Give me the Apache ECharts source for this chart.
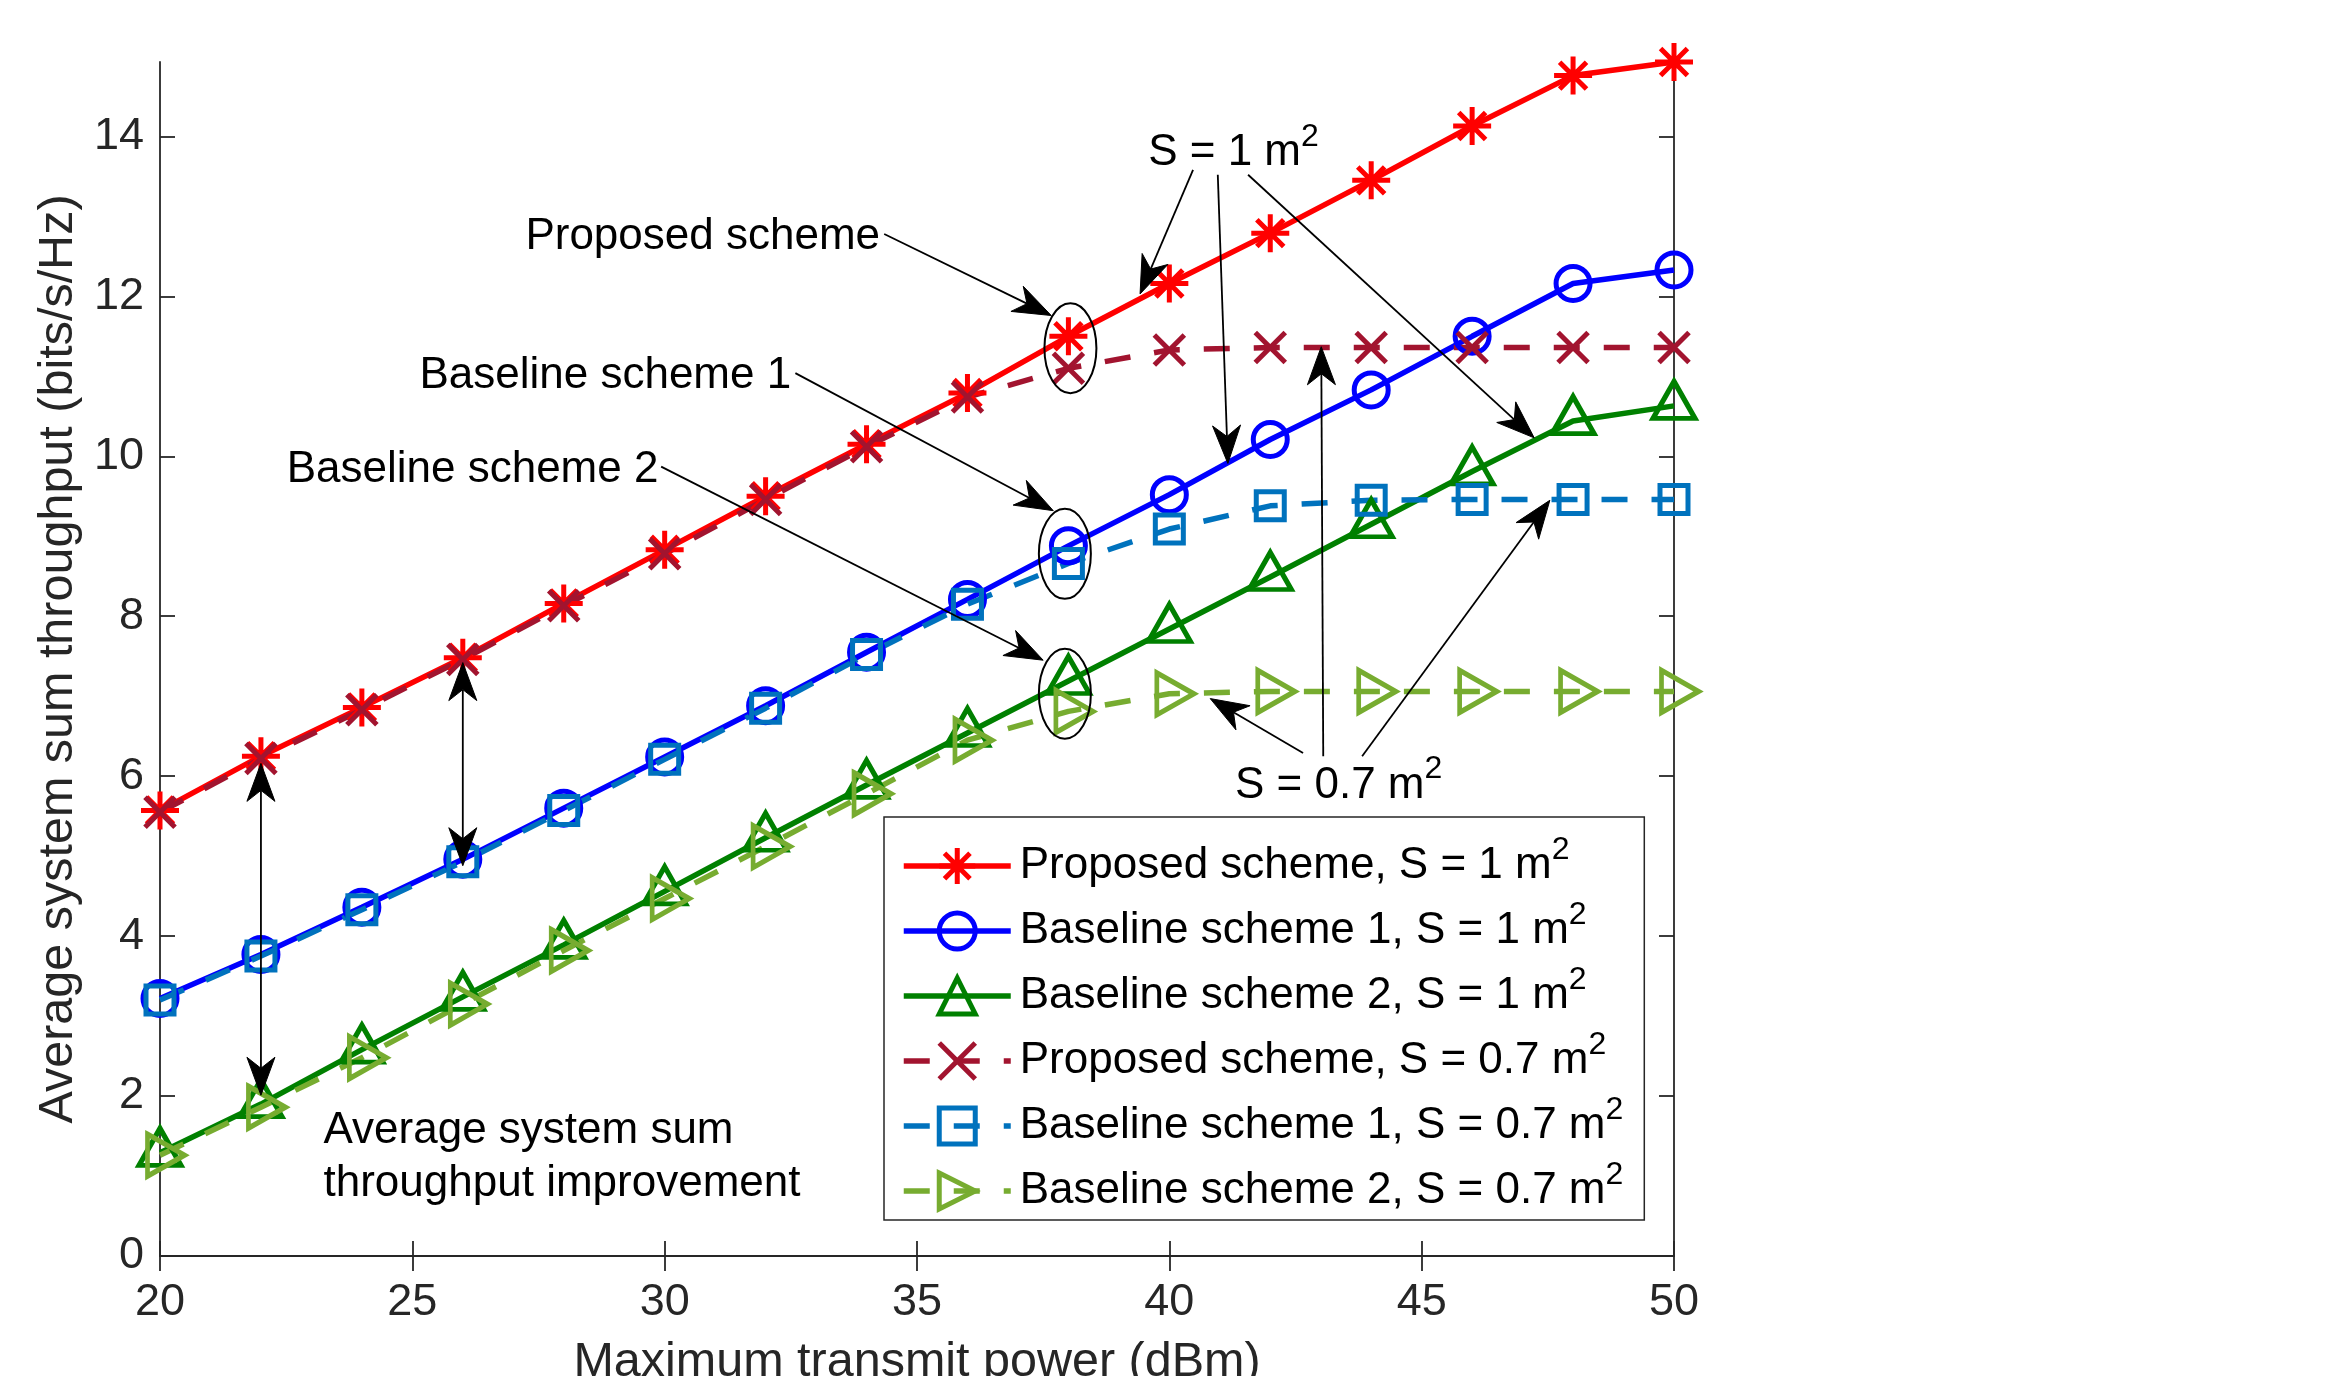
<!DOCTYPE html>
<html>
<head>
<meta charset="utf-8">
<script src="https://cdn.jsdelivr.net/npm/echarts@6/dist/echarts.min.js"></script>
<style>
html,body{margin:0;padding:0;background:#fff;}
#c{width:2338px;height:1376px;}
</style>
</head>
<body>
<div id="c"></div>
<script>
// ---------------- data ----------------
const power = [20, 22, 24, 26, 28, 30, 32, 34, 36, 38, 40, 42, 44, 46, 48, 50];
const xTicks = [20, 25, 30, 35, 40, 45, 50];
const yTicks = [0, 2, 4, 6, 8, 10, 12, 14];
const yTop = 14.93;

const proposedS1  = [5.57, 6.25, 6.86, 7.48, 8.16, 8.83, 9.50, 10.15, 10.79, 11.50, 12.16, 12.79, 13.45, 14.13, 14.76, 14.93];
const baseline1S1 = [3.22, 3.77, 4.36, 4.96, 5.60, 6.24, 6.88, 7.55, 8.21, 8.88, 9.52, 10.21, 10.83, 11.50, 12.16, 12.33];
const baseline2S1 = [1.29, 1.90, 2.58, 3.24, 3.89, 4.56, 5.23, 5.89, 6.54, 7.19, 7.84, 8.49, 9.15, 9.81, 10.44, 10.63];
const proposedS07  = [5.55, 6.22, 6.83, 7.46, 8.13, 8.78, 9.46, 10.12, 10.74, 11.10, 11.33, 11.36, 11.36, 11.36, 11.36, 11.36];
const baseline1S07 = [3.20, 3.75, 4.33, 4.93, 5.57, 6.21, 6.85, 7.52, 8.15, 8.66, 9.09, 9.38, 9.45, 9.46, 9.46, 9.46];
const baseline2S07 = [1.26, 1.86, 2.48, 3.15, 3.82, 4.47, 5.12, 5.78, 6.45, 6.81, 7.03, 7.06, 7.06, 7.06, 7.06, 7.06];

const seriesNames = [
  'Proposed scheme, S = 1 m²',
  'Baseline scheme 1, S = 1 m²',
  'Baseline scheme 2, S = 1 m²',
  'Proposed scheme, S = 0.7 m²',
  'Baseline scheme 1, S = 0.7 m²',
  'Baseline scheme 2, S = 0.7 m²'
];

// annotation texts: [text, superscript, x (data), baseline y (data)]
const annoTexts = [
  ['S = 1 m', '2', 39.58, 13.62],
  ['S = 0.7 m', '2', 41.30, 5.71],
  ['Proposed scheme', '', 27.24, 12.57],
  ['Baseline scheme 1', '', 25.14, 10.83],
  ['Baseline scheme 2', '', 22.51, 9.66],
  ['Average system sum', '', 23.24, 1.39],
  ['throughput improvement', '', 23.24, 0.73]
];
// arrows: [x0, y0, x1(tip), y1(tip)] in data units
const annoArrows = [
  [40.47, 13.58, 39.42, 12.03],
  [40.96, 13.52, 41.16, 9.91],
  [41.56, 13.52, 47.23, 10.23],
  [42.65, 6.29, 40.81, 6.97],
  [43.05, 6.25, 43.01, 11.37],
  [43.82, 6.25, 47.54, 9.45],
  [34.35, 12.78, 37.66, 11.76],
  [32.59, 11.04, 37.70, 9.32],
  [29.93, 9.87, 37.50, 7.45]
];
// double-headed arrows: [x, yTop, yBottom]
const annoDoubleArrows = [
  [22, 6.16, 2.01],
  [26, 7.42, 4.88]
];
// ellipses: [x, y] centers in data units
const annoEllipses = [
  [38.04, 11.35],
  [37.93, 8.78],
  [37.93, 7.03]
];

// ---------------- chart ----------------
const FONT = '"Liberation Sans", Arial, Helvetica, sans-serif';
const AX = '#262626';
const chart = echarts.init(document.getElementById('c'), null, {renderer: 'canvas'});

const STAR = 'path://M50,0L50,100M0,50L100,50M14.6,14.6L85.4,85.4M85.4,14.6L14.6,85.4';
const XMARK = 'path://M0,0L100,100M100,0L0,100';
const RTRI = 'path://M0,0L100,50L0,100Z';

function mk(name, vals, color, symbol, size, dashed, offset) {
  return {
    name: name, type: 'line',
    data: power.map((p, i) => [p, vals[i]]),
    symbol: symbol, symbolSize: size, symbolOffset: offset || [0, 0],
    showAllSymbol: true, clip: false, silent: true, animation: false,
    lineStyle: {color: color, width: 5.5, type: dashed ? [26, 24] : 'solid', cap: 'butt'},
    itemStyle: {color: 'rgba(255,255,255,0)', borderColor: color, borderWidth: 5},
    emphasis: {disabled: true}
  };
}

const axisCommon = {
  axisLine: {show: true, lineStyle: {color: AX, width: 1.8}},
  axisTick: {show: true, inside: true, length: 15, lineStyle: {color: AX, width: 1.8}},
  splitLine: {show: false}
};

const option = {
  backgroundColor: '#fff',
  animation: false,
  grid: {left: 160, right: 664, top: 62, bottom: 120, containLabel: false, outerBoundsMode: 'none'},
  xAxis: [
    Object.assign({
      type: 'value', min: xTicks[0], max: xTicks[xTicks.length - 1], interval: xTicks[1] - xTicks[0], position: 'bottom',
      axisLabel: {fontSize: 45, color: AX, margin: 24, fontFamily: FONT},
      name: 'Maximum transmit power (dBm)', nameLocation: 'middle', nameGap: 82,
      nameTextStyle: {fontSize: 48.5, color: AX, fontFamily: FONT}
    }, axisCommon),
    Object.assign({
      type: 'value', min: xTicks[0], max: xTicks[xTicks.length - 1], interval: xTicks[1] - xTicks[0], position: 'top',
      axisLabel: {show: false}
    }, axisCommon)
  ],
  yAxis: [
    Object.assign({
      type: 'value', min: yTicks[0], max: yTop, interval: yTicks[1] - yTicks[0], position: 'left',
      axisLabel: {fontSize: 45, color: AX, margin: 16, fontFamily: FONT, showMaxLabel: false},
      name: 'Average system sum throughput (bits/s/Hz)', nameLocation: 'middle', nameGap: 75,
      nameTextStyle: {fontSize: 48.5, color: AX, fontFamily: FONT}
    }, axisCommon),
    Object.assign({
      type: 'value', min: yTicks[0], max: yTop, interval: yTicks[1] - yTicks[0], position: 'right',
      axisLabel: {show: false}
    }, axisCommon)
  ],
  legend: {
    data: seriesNames, orient: 'vertical', left: 884, top: 817,
    padding: [17, 21, 7, 17], itemGap: 11, itemWidth: 107, itemHeight: 45,
    backgroundColor: '#fff', borderColor: AX, borderWidth: 1.5, borderRadius: 0,
    selectedMode: false, z: 50,
    lineStyle: {width: 5.5},
    itemStyle: {borderWidth: 5},
    formatter: n => '{a|' + n.replace('²', '') + '}{s|2}',
    textStyle: {
      color: '#000', fontFamily: FONT,
      rich: {
        a: {fontSize: 44, lineHeight: 64, fontFamily: FONT, color: '#000', padding: [0, 0, 0, 4]},
        s: {fontSize: 32, lineHeight: 32, verticalAlign: 'top', fontFamily: FONT, color: '#000'}
      }
    }
  },
  series: [
    mk(seriesNames[0], proposedS1, '#FF0000', STAR, 38, false),
    mk(seriesNames[1], baseline1S1, '#0000FF', 'circle', 34, false),
    mk(seriesNames[2], baseline2S1, '#008000', 'triangle', [42, 37], false, [0, -6]),
    mk(seriesNames[3], proposedS07, '#A2142F', XMARK, 30, true),
    mk(seriesNames[4], baseline1S07, '#0072BD', 'rect', 28, true),
    mk(seriesNames[5], baseline2S07, '#77AC30', RTRI, [37, 42], true, [6, 0])
  ]
};
chart.setOption(option);

// ---------------- annotations ----------------
const P = (x, y) => chart.convertToPixel({xAxisIndex: 0, yAxisIndex: 0}, [x, y]);
const g = [];
const richAnno = {
  a: {fontSize: 44, lineHeight: 64, fontFamily: FONT, color: '#000'},
  s: {fontSize: 32, lineHeight: 32, verticalAlign: 'top', fontFamily: FONT, color: '#000'}
};
annoTexts.forEach(t => {
  const p = P(t[2], t[3]);
  g.push({
    type: 'text', x: p[0], y: p[1] - 13.7, z: 100, silent: true,
    style: {text: '{a|' + t[0] + '}' + (t[1] ? '{s|' + t[1] + '}' : ''), rich: richAnno,
      align: 'left', verticalAlign: 'middle', fill: '#000'}
  });
});

const HL = 38, HW = 14, HN = 27;
function head(tip, from) {
  const dx = tip[0] - from[0], dy = tip[1] - from[1];
  const d = Math.hypot(dx, dy), ux = dx / d, uy = dy / d, px = -uy, py = ux;
  const bx = tip[0] - ux * HL, by = tip[1] - uy * HL;
  const notch = [tip[0] - ux * HN, tip[1] - uy * HN];
  g.push({type: 'polygon', z: 101, silent: true,
    shape: {points: [tip, [bx + px * HW, by + py * HW], notch, [bx - px * HW, by - py * HW]]},
    style: {fill: '#000', stroke: '#000', lineWidth: 1}});
  return notch;
}
annoArrows.forEach(a => {
  const s = P(a[0], a[1]), t = P(a[2], a[3]);
  const n = head(t, s);
  g.push({type: 'line', z: 100, silent: true, shape: {x1: s[0], y1: s[1], x2: n[0], y2: n[1]},
    style: {stroke: '#000', lineWidth: 1.8}});
});
annoDoubleArrows.forEach(a => {
  const t1 = P(a[0], a[1]), t2 = P(a[0], a[2]);
  const n1 = head(t1, t2), n2 = head(t2, t1);
  g.push({type: 'line', z: 100, silent: true, shape: {x1: n1[0], y1: n1[1], x2: n2[0], y2: n2[1]},
    style: {stroke: '#000', lineWidth: 1.8}});
});
annoEllipses.forEach(e => {
  const c = P(e[0], e[1]);
  g.push({type: 'ellipse', z: 100, silent: true, shape: {cx: c[0], cy: c[1], rx: 26, ry: 45},
    style: {fill: 'none', stroke: '#000', lineWidth: 2}});
});
chart.setOption({graphic: g});
</script>
</body>
</html>
